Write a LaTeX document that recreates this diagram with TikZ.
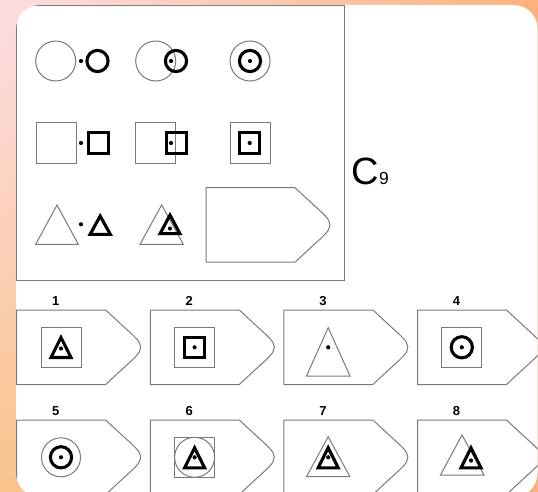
\documentclass[tikz,border=0pt]{standalone}
\usepackage{fontspec}
\setsansfont{Liberation Sans}
\usetikzlibrary{positioning, shadings}
\definecolor{cgrey}{HTML}{7A7A7A}
\definecolor{cpink}{HTML}{FCDDE3}
\definecolor{corange}{HTML}{FBB27C}
\definecolor{cpeach}{HTML}{F9C48A}
\tikzset{
  faint/.style={draw=cgrey, line width=1pt},
  heavy/.style={draw=black, line width=3.1pt, line join=miter},
  dot/.style={fill=black},
  num/.style={font=\sffamily\bfseries\fontsize{13}{13}\selectfont, inner sep=0pt},
  tag/.pic={
    \draw[faint] (0,0) -- (89,0) -- (103,13) .. controls (117,26) and (124,31) .. (124,37.25)
      .. controls (124,43.5) and (117,48.5) .. (103,61.5) -- (89,74.5) -- (0,74.5) -- cycle;
  },
}

\begin{document}
\begin{tikzpicture}[x=1pt, y=-1pt]
  \useasboundingbox (0,0) rectangle (538,492);
  \shade[upper left=cpink, upper right=corange, lower left=cpeach, lower right=corange] (0,0) rectangle (538,492);
  \fill[white, rounded corners=24pt] (16,5) rectangle (537.5,497);
  \begin{scope}
  \clip[rounded corners=24pt] (16,5) rectangle (537.5,497);
  % the matrix
  \draw[faint] (16.5,5.5) rectangle (344.7,280);
  \draw[faint] (55.7,61) circle (20);
  \fill[dot] (81,61) circle (2.1);
  \draw[heavy] (97.5,61) circle (10.6);
  \draw[faint] (155.7,61) circle (20);
  \draw[heavy] (176,61) circle (10.6);
  \fill[dot] (171,61) circle (2.1);
  \draw[faint] (250,61) circle (20);
  \draw[heavy] (250,61) circle (10.6);
  \fill[dot] (250,61) circle (2.1);
  \draw[faint] (36,123) rectangle (76,163);
  \fill[dot] (81,143) circle (2.1);
  \draw[heavy] (88.5,132.8) rectangle (108.9,153.2);
  \draw[faint] (135.3,123) rectangle (175.3,163);
  \draw[heavy] (166.1,132.8) rectangle (186.5,153.2);
  \fill[dot] (171,143) circle (2.1);
  \draw[faint] (230,123) rectangle (270,163);
  \draw[heavy] (239.5,132.8) rectangle (259.9,153.2);
  \fill[dot] (249.7,143) circle (2.1);
  \draw[faint] (57,205) -- (78.3,244.3) -- (35.7,244.3) -- cycle;
  \fill[dot] (81,224.3) circle (2.1);
  \draw[heavy] (100.2,216.1) -- (110.3,234.3) -- (90.1,234.3) -- cycle;
  \draw[faint] (161.7,205) -- (183.3,244.3) -- (140,244.3) -- cycle;
  \draw[heavy] (170,215.1) -- (179.9,233.6) -- (160.1,233.6) -- cycle;
  \fill[dot] (170,228.5) circle (2.1);
  \pic at (206,187.7) {tag};
  \node[anchor=base west, inner sep=0pt, font=\sffamily\fontsize{38}{38}\selectfont] (cnine) at (351.5,184.3) {C\fontsize{17.5}{17.5}\selectfont 9};
  % the answers
  \pic at (16.7,310) {tag};
  \pic at (150.3,310) {tag};
  \pic at (283.9,310) {tag};
  \pic at (417.5,310) {tag};
  \pic at (16.7,420) {tag};
  \pic at (150.3,420) {tag};
  \pic at (283.9,420) {tag};
  \pic at (417.5,420) {tag};
  \node[num] (n1) at (55.7,301) {1};
  \node[num] (n2) at (189.3,301) {2};
  \node[num] (n3) at (322.9,301) {3};
  \node[num] (n4) at (456.5,301) {4};
  \node[num] (n5) at (55.7,411) {5};
  \node[num] (n6) at (189.3,411) {6};
  \node[num] (n7) at (322.9,411) {7};
  \node[num] (n8) at (456.5,411) {8};
  % 1
  \draw[faint] (41,327.3) rectangle (81,367.3);
  \draw[heavy] (61,337.5) -- (71,357.5) -- (51,357.5) -- cycle;
  \fill[dot] (61,348.5) circle (2.1);
  % 2
  \draw[faint] (174.6,327.3) rectangle (214.6,367.3);
  \draw[heavy] (184.4,337.1) rectangle (204.8,357.5);
  \fill[dot] (194.6,347.3) circle (2.1);
  % 3
  \draw[faint] (328.2,327.7) -- (350,376) -- (306.5,376) -- cycle;
  \fill[dot] (328.2,347.3) circle (2.1);
  % 4
  \draw[faint] (441.8,327.3) rectangle (481.8,367.3);
  \draw[heavy] (461.8,347.3) circle (10.6);
  \fill[dot] (461.8,347.3) circle (2.1);
  % 5
  \draw[faint] (61,457.3) circle (19.5);
  \draw[heavy] (61,457.3) circle (10.6);
  \fill[dot] (61,457.3) circle (2.1);
  % 6
  \draw[faint] (174.6,437.3) rectangle (214.6,477.3);
  \draw[faint] (194.6,457.3) circle (20);
  \draw[heavy] (194.6,447.8) -- (204.6,467.8) -- (184.6,467.8) -- cycle;
  \fill[dot] (194.6,457.3) circle (2.1);
  % 7
  \draw[faint] (328.2,436.7) -- (349.9,476.7) -- (306.5,476.7) -- cycle;
  \draw[heavy] (328.2,447.8) -- (338.2,467.8) -- (318.2,467.8) -- cycle;
  \fill[dot] (328.2,457.3) circle (2.1);
  % 8
  \draw[faint] (462,435) -- (484,475) -- (440.5,475) -- cycle;
  \draw[heavy] (471,447.8) -- (481,467.8) -- (461,467.8) -- cycle;
  \fill[dot] (471,460.5) circle (2.1);
  \end{scope}
\end{tikzpicture}
\end{document}
